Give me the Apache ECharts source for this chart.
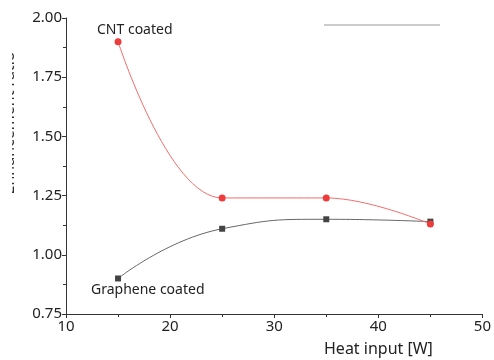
<!DOCTYPE html>
<html><head><meta charset="utf-8">
<script src="https://cdn.jsdelivr.net/npm/echarts@6/dist/echarts.min.js"></script>
<style>html,body{margin:0;padding:0;background:#fff}#c{width:494px;height:360px}</style>
</head><body><div id="c"></div>
<script>
const heatInput = [15, 25, 35, 45];
const cntCoated = [1.90, 1.24, 1.24, 1.13];
const grapheneCoated = [0.90, 1.11, 1.15, 1.14];
const xTicks = [10, 20, 30, 40, 50];
const yTicks = [0.75, 1.00, 1.25, 1.50, 1.75, 2.00];
const xName = 'Heat input [W]';
const yName = 'Enhancement ratio';

const font = '"Noto Sans", sans-serif';
const chart = echarts.init(document.getElementById('c'));
chart.setOption({
  animation: false,
  grid: {left: 66, right: 11, top: 18, bottom: 46},
  xAxis: {
    type: 'value', min: xTicks[0], max: xTicks[xTicks.length-1], interval: 10,
    axisLine: {lineStyle: {color: '#333', width: 1}},
    axisTick: {show: true, length: 4, lineStyle: {color: '#333'}},
    minorTick: {show: true, splitNumber: 2, length: 3, lineStyle: {color: '#333'}},
    splitLine: {show: false},
    axisLabel: {color: '#222', fontSize: 15, fontFamily: font, margin: 5}
  },
  yAxis: {
    type: 'value', min: yTicks[0], max: yTicks[yTicks.length-1], interval: 0.25,
    axisLine: {show: true, lineStyle: {color: '#333', width: 1}},
    axisTick: {show: true, length: 4, lineStyle: {color: '#333'}},
    minorTick: {show: true, splitNumber: 2, length: 3, lineStyle: {color: '#333'}},
    splitLine: {show: false},
    axisLabel: {color: '#222', fontSize: 15, fontFamily: font, margin: 4,
      formatter: v => v.toFixed(2)}
  },
  series: [
    {
      type: 'line', name: 'CNT coated', smooth: 0.4,
      data: heatInput.map((x, i) => [x, cntCoated[i]]),
      symbol: 'circle', symbolSize: 7,
      itemStyle: {color: '#ee3b3b'},
      lineStyle: {color: '#f46b6b', width: 1},
      z: 3
    },
    {
      type: 'line', name: 'Graphene coated', smooth: 0.5,
      data: heatInput.map((x, i) => [x, grapheneCoated[i]]),
      symbol: 'rect', symbolSize: 6,
      itemStyle: {color: '#444'},
      lineStyle: {color: '#666', width: 1},
      z: 2
    }
  ],
  graphic: [
    {type: 'text', left: 97, top: 23, style: {text: 'CNT coated', font: '14px ' + font, fill: '#222'}},
    {type: 'text', left: 91, top: 283, style: {text: 'Graphene coated', font: '14px ' + font, fill: '#222'}},
    {type: 'text', left: 324, top: 341, style: {text: xName, font: '16px ' + font, fill: '#222'}},
    {type: 'text', x: 9, y: 123, rotation: Math.PI/2,
      style: {text: yName, font: '16px ' + font, fill: '#333', align: 'center', verticalAlign: 'middle'}},
    {type: 'rect', shape: {x: 0, y: 0, width: 12, height: 360}, style: {fill: '#fff'}, z: 100},
    {type: 'line', shape: {x1: 324, y1: 25, x2: 440, y2: 25}, style: {stroke: '#999', lineWidth: 1.2}}
  ]
});
</script></body></html>
